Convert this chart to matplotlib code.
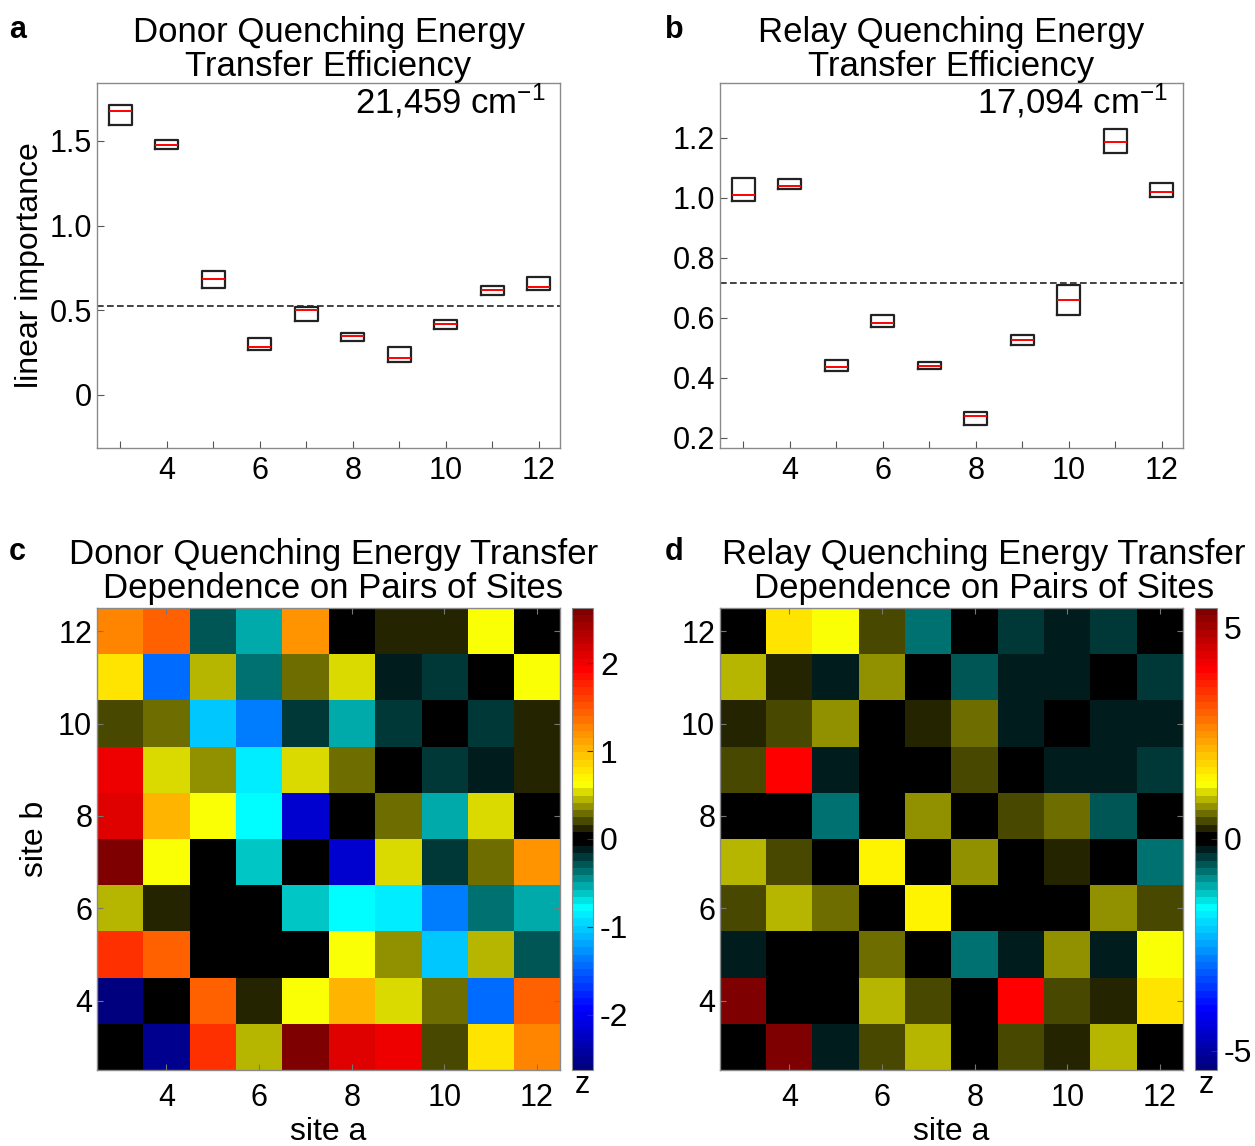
import numpy as np
import matplotlib
matplotlib.use('Agg')
import matplotlib.pyplot as plt
from matplotlib.colors import LinearSegmentedColormap, ListedColormap

plt.rcParams['font.family'] = ['Liberation Sans', 'DejaVu Sans']
plt.rcParams['mathtext.default'] = 'regular'
plt.rcParams['axes.unicode_minus'] = False

# ---- data ----
sites = [3, 4, 5, 6, 7, 8, 9, 10, 11, 12]

donor_q1 = [1.596, 1.450, 0.632, 0.264, 0.437, 0.319, 0.197, 0.388, 0.589, 0.619]
donor_med = [1.678, 1.476, 0.686, 0.282, 0.501, 0.347, 0.220, 0.418, 0.621, 0.640]
donor_q3 = [1.714, 1.503, 0.731, 0.335, 0.522, 0.366, 0.282, 0.445, 0.644, 0.696]
donor_ref = 0.528

relay_q1 = [0.989, 1.030, 0.423, 0.570, 0.427, 0.241, 0.507, 0.610, 1.148, 1.002]
relay_med = [1.008, 1.037, 0.434, 0.582, 0.440, 0.271, 0.524, 0.659, 1.184, 1.017]
relay_q3 = [1.066, 1.061, 0.457, 0.607, 0.453, 0.286, 0.542, 0.707, 1.230, 1.048]
relay_ref = 0.716

# rows from site b = 12 (top) down to site b = 3, columns site a = 3..12
donor_pairs = [
    [1.27, 1.44, -0.29, -0.53, 1.19, 0.00, 0.12, 0.12, 0.62, 0.00],
    [0.80, -1.44, 0.45, -0.37, 0.29, 0.53, -0.12, -0.20, 0.00, 0.62],
    [0.20, 0.29, -1.03, -1.35, -0.20, -0.53, -0.20, 0.00, -0.20, 0.12],
    [2.00, 0.53, 0.37, -0.86, 0.53, 0.29, 0.00, -0.20, -0.12, 0.12],
    [2.10, 1.03, 0.62, -0.78, -2.18, 0.00, 0.29, -0.53, 0.53, 0.00],
    [2.60, 0.62, 0.00, -0.62, 0.00, -2.18, 0.53, -0.20, 0.29, 1.19],
    [0.45, 0.12, 0.00, 0.00, -0.62, -0.78, -0.86, -1.35, -0.37, -0.53],
    [1.68, 1.44, 0.00, 0.00, 0.00, 0.62, 0.37, -1.03, 0.45, -0.29],
    [-2.60, 0.00, 1.44, 0.12, 0.62, 1.03, 0.53, 0.29, -1.44, 1.44],
    [0.00, -2.50, 1.68, 0.45, 2.60, 2.10, 2.00, 0.20, 0.80, 1.27],
]
relay_pairs = [
    [0.00, 1.60, 1.28, 0.42, -0.76, 0.00, -0.43, -0.26, -0.43, 0.00],
    [0.94, 0.25, -0.26, 0.76, 0.00, -0.60, -0.26, -0.26, 0.00, -0.43],
    [0.25, 0.42, 0.76, 0.00, 0.25, 0.60, -0.26, 0.00, -0.26, -0.26],
    [0.42, 4.00, -0.26, 0.00, 0.00, 0.42, 0.00, -0.26, -0.26, -0.43],
    [0.00, 0.00, -0.76, 0.00, 0.76, 0.00, 0.42, 0.60, -0.60, 0.00],
    [0.94, 0.42, 0.00, 1.45, 0.00, 0.76, 0.00, 0.25, 0.00, -0.76],
    [0.42, 0.94, 0.60, 0.00, 1.45, 0.00, 0.00, 0.00, 0.76, 0.42],
    [-0.26, 0.00, 0.00, 0.60, 0.00, -0.76, -0.26, 0.76, -0.26, 1.28],
    [5.40, 0.00, 0.00, 0.94, 0.42, 0.00, 4.00, 0.42, 0.25, 1.60],
    [0.00, 5.40, -0.26, 0.42, 0.94, 0.00, 0.42, 0.25, 0.94, 0.00],
]
donor_zlim = 2.63
relay_zlim = 5.45

# 64-step jet with the green middle swapped for a black band
jet_ends = LinearSegmentedColormap.from_list('jetends', [
    (0.0, (0, 0, 0.5)), (0.125, (0, 0, 1)), (0.35, (0, 1, 1)),
    (0.625, (1, 1, 0)), (0.875, (1, 0, 0)), (1.0, (0.5, 0, 0))])
levels = []
for k in range(64):
    if k <= 22:
        levels.append(jet_ends(k / 63)[:3])
    elif k <= 31:
        levels.append((0, (31 - k) / 9, (31 - k) / 9))
    elif k < 39:
        levels.append(((k - 32) / 7, (k - 32) / 7, 0))
    else:
        levels.append(jet_ends(k / 63)[:3])
zcmap = ListedColormap(levels)

W, H = 1255, 1146
SPINE = '#8a8a8a'
FS = 22
TFS = 25


def rect(x0, y0, x1, y1):
    return [x0 / W, 1 - y1 / H, (x1 - x0) / W, (y1 - y0) / H]


def style_axes(ax):
    for s in ax.spines.values():
        s.set_color(SPINE)
        s.set_linewidth(1.0)
    ax.tick_params(direction='in', color='#555555', labelsize=FS, length=5, width=0.8)


def box_panel(ax, q1, med, q3, ref, ylim, yticks, ylabels, title, note):
    stats = [dict(med=m, q1=a, q3=b, whislo=a, whishi=b, fliers=[])
             for a, m, b in zip(q1, med, q3)]
    ax.bxp(stats, positions=sites, widths=0.5, showcaps=False, showfliers=False,
           manage_ticks=False,
           boxprops=dict(color='#222222', linewidth=1.6),
           medianprops=dict(color='red', linewidth=1.4),
           whiskerprops=dict(linewidth=0))
    ax.axhline(ref, color='#222222', linestyle='--', linewidth=1.2, dashes=(4, 2))
    ax.set_xlim(2.5, 12.46)
    ax.set_ylim(*ylim)
    ax.set_xticks([4, 6, 8, 10, 12])
    ax.set_xticks(sites, minor=True)
    ax.set_yticks(yticks)
    ax.set_yticklabels(ylabels)
    style_axes(ax)
    ax.tick_params(which='minor', direction='in', color='#555555', length=5, width=0.8)
    ax.tick_params(axis='x', pad=6)
    ax.set_title(title, fontsize=TFS, linespacing=1.05, pad=0)
    ax.text(0.968, 0.918, note, transform=ax.transAxes, ha='right', va='baseline',
            fontsize=TFS)


def heat_panel(ax, cax, grid, zlim, cticks, title, tx):
    im = ax.imshow(grid, cmap=zcmap, vmin=-zlim, vmax=zlim, origin='upper',
                   extent=(2.5, 12.5, 2.5, 12.5), aspect='auto', interpolation='nearest')
    ax.set_xticks([4, 6, 8, 10, 12])
    ax.set_yticks([4, 6, 8, 10, 12])
    style_axes(ax)
    ax.tick_params(top=True, right=True, length=4, color='#777777')
    ax.tick_params(axis='x', pad=9)
    ax.set_xlabel('site a', fontsize=23, labelpad=3)
    ax.set_title(title, fontsize=TFS, linespacing=1.05, pad=7, x=tx)
    cb = plt.colorbar(im, cax=cax)
    cb.set_ticks(cticks)
    cb.outline.set_edgecolor(SPINE)
    cb.ax.tick_params(direction='in', labelsize=FS + 1, length=4, color='#333333', pad=5)
    cax.set_xlabel('z', fontsize=FS, labelpad=0)


fig = plt.figure(figsize=(W / 100, H / 100), dpi=100)

ax_a = fig.add_axes(rect(97, 83, 560, 448))
box_panel(ax_a, donor_q1, donor_med, donor_q3, donor_ref, (-0.313, 1.842),
          [0, 0.5, 1.0, 1.5], ['0', '0.5', '1.0', '1.5'],
          'Donor Quenching Energy\nTransfer Efficiency', r'21,459 cm$^{-1}$')
ax_a.set_ylabel('linear importance', fontsize=23, labelpad=3)

ax_b = fig.add_axes(rect(720, 83, 1183, 448))
box_panel(ax_b, relay_q1, relay_med, relay_q3, relay_ref, (0.165, 1.382),
          [0.2, 0.4, 0.6, 0.8, 1.0, 1.2], ['0.2', '0.4', '0.6', '0.8', '1.0', '1.2'],
          'Relay Quenching Energy\nTransfer Efficiency', r'17,094 cm$^{-1}$')

ax_c = fig.add_axes(rect(97, 608, 560, 1070))
cax_c = fig.add_axes(rect(572, 608, 593, 1070))
heat_panel(ax_c, cax_c, donor_pairs, donor_zlim, [-2, -1, 0, 1, 2],
           'Donor Quenching Energy Transfer\nDependence on Pairs of Sites', 0.51)
ax_c.set_ylabel('site b', fontsize=23, labelpad=6)

ax_d = fig.add_axes(rect(720, 608, 1183, 1070))
cax_d = fig.add_axes(rect(1195, 608, 1217, 1070))
heat_panel(ax_d, cax_d, relay_pairs, relay_zlim, [-5, 0, 5],
           'Relay Quenching Energy Transfer\nDependence on Pairs of Sites', 0.570)

for letter, x, y in [('a', 9, 38), ('b', 665, 38), ('c', 9, 560), ('d', 665, 560)]:
    fig.text(x / W, 1 - y / H, letter, fontsize=22, fontweight='bold', va='baseline')

fig.savefig('out.png', dpi=100)
plt.close(fig)
